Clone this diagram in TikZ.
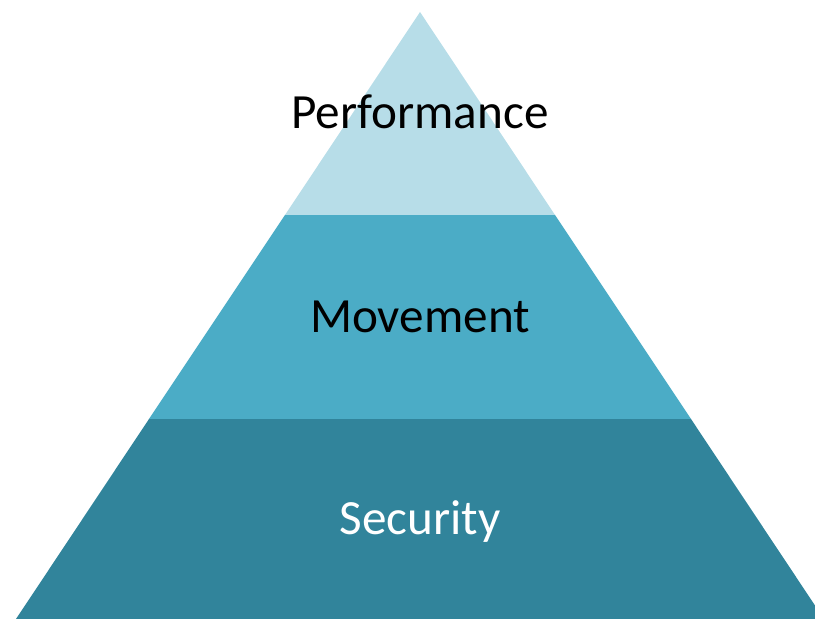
\documentclass[tikz,border=0pt]{standalone}
\usepackage{fontspec}
\setmainfont{Carlito}
\usepackage{xcolor}
\usepackage{tikz}
\usepackage{tkz-euclide}
\usetikzlibrary{calc,positioning}
\definecolor{peaklight}{HTML}{B7DDE8}
\definecolor{midaqua}{HTML}{4BACC6}
\definecolor{baseaqua}{HTML}{31849B}
\tikzset{level/.style={font=\fontsize{42}{50}\selectfont, inner sep=0pt}}

\begin{document}
\begin{tikzpicture}
\useasboundingbox (0,0) rectangle (24.45,18.57);
\clip (0,0) rectangle (24.45,18.57);
\tkzDefPoint(12.6,18.21){T}
\tkzDefPoint(8.55,12.12){P} \tkzDefPoint(16.65,12.12){Q}
\tkzDefPoint(4.47,6.0){M} \tkzDefPoint(20.73,6.0){N}
\tkzDefPoint(0.48,0.0){A} \tkzDefPoint(24.72,0.0){B}
% three layers
\fill[baseaqua] (A) -- (B) -- (N) -- (M) -- cycle;
\fill[midaqua] (M) -- (N) -- (Q) -- (P) -- cycle;
\fill[peaklight] (P) -- (Q) -- (T) -- cycle;
\node[level] (perf) at (12.6,15.21) {Performance};
\node[level] (move) at (12.6,9.06) {Movement};
\node[level,text=white] (secu) at (12.6,2.91) {Security};
\end{tikzpicture}
\end{document}
